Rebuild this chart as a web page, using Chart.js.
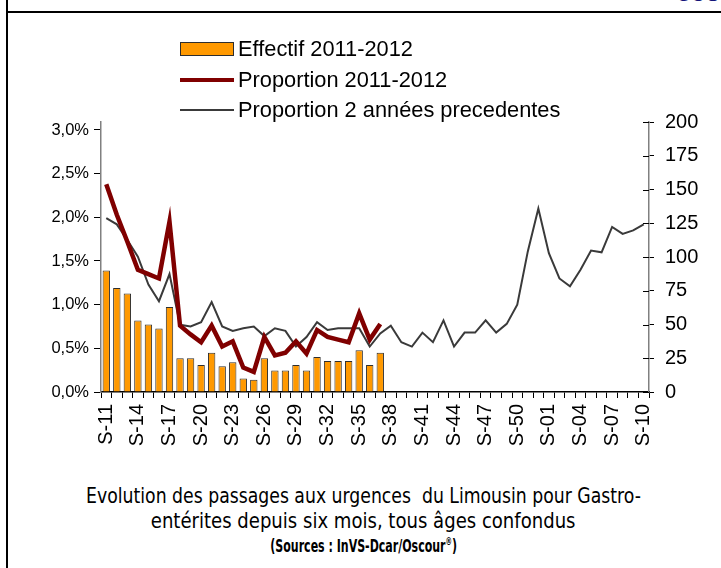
<!DOCTYPE html>
<html>
<head>
<meta charset="utf-8">
<script src="https://cdn.jsdelivr.net/npm/chart.js@4.4.1/dist/chart.umd.min.js"></script>
<style>
html, body { margin: 0; padding: 0; background: #fff; }
body { width: 721px; height: 568px; position: relative; overflow: hidden; font-family: "Liberation Sans", Arial, sans-serif; }
#cadreV { position: absolute; left: 6px; top: 0; width: 2px; height: 568px; background: #000; }
#cadreH { position: absolute; left: 6px; top: 11px; width: 715px; height: 2px; background: #000; }
#entete { position: absolute; right: 0; top: -23px; font: bold 26px "Liberation Sans", Arial, sans-serif; color: #14147a; }
#graphique { position: absolute; left: 0; top: 0; }
#legende { position: absolute; left: 180px; top: 34px; font-size: 21.8px; color: #000; }
.item { height: 30.5px; display: flex; align-items: center; white-space: nowrap; }
.marque { width: 54px; margin-right: 4px; box-sizing: border-box; }
#texte { position: absolute; left: 6px; right: 0; top: 483px; text-align: center; font-family: "Liberation Sans Narrow", "DejaVu Sans Condensed", sans-serif; color: #000; }
#texte div { height: 25px; }
#texte div.d3 { margin-top: -2px; }
#texte span { display: inline-block; white-space: nowrap; transform-origin: 50% 50%; }
.l1 { font-size: 21px; line-height: 26px; }
.l3 { font-size: 17px; line-height: 22px; font-weight: bold; }
sup { font-size: 10px; }
</style>
</head>
<body>
<div id="cadreV"></div>
<div id="cadreH"></div>
<div id="entete">eco</div>
<canvas id="graphique" width="721" height="470"></canvas>
<div id="legende"></div>
<div id="texte">
  <div><span class="l1" style="transform: scaleX(0.914)">Evolution des passages aux urgences&nbsp; du Limousin pour Gastro-</span></div>
  <div><span class="l1" style="transform: scaleX(0.956)">entérites depuis six mois, tous âges confondus</span></div>
  <div class="d3"><span class="l3" style="transform: scaleX(0.72)">(Sources : InVS-Dcar/Oscour<sup>®</sup>)</span></div>
</div>
<script>
// semaines (S-11 2011 -> S-10 2012)
const semaines = ['S-11','S-12','S-13','S-14','S-15','S-16','S-17','S-18','S-19','S-20',
  'S-21','S-22','S-23','S-24','S-25','S-26','S-27','S-28','S-29','S-30',
  'S-31','S-32','S-33','S-34','S-35','S-36','S-37','S-38','S-39','S-40',
  'S-41','S-42','S-43','S-44','S-45','S-46','S-47','S-48','S-49','S-50',
  'S-51','S-52','S-01','S-02','S-03','S-04','S-05','S-06','S-07','S-08',
  'S-09','S-10'];

// effectif 2011-2012 (axe de droite)
const effectif = [90, 77, 73, 53, 50, 47, 63, 25, 25, 20, 29, 19, 22, 10, 9, 25, 16, 16,
  20, 16, 26, 23, 23, 23, 31, 20, 29];

// proportions en % (axe de gauche)
const propActuelle = [2.38, 2.03, 1.72, 1.40, 1.35, 1.30, 1.95, 0.76, 0.66, 0.57, 0.76, 0.52,
  0.58, 0.28, 0.23, 0.63, 0.42, 0.45, 0.58, 0.44, 0.71, 0.63, 0.60, 0.57, 0.90, 0.60, 0.78];
const propPrecedentes = [1.99, 1.92, 1.74, 1.55, 1.23, 1.04, 1.35, 0.77, 0.75, 0.80, 1.03, 0.75,
  0.70, 0.73, 0.75, 0.64, 0.73, 0.70, 0.52, 0.63, 0.80, 0.71, 0.73, 0.73, 0.73, 0.52,
  0.67, 0.76, 0.57, 0.52, 0.68, 0.57, 0.82, 0.52, 0.68, 0.68, 0.82, 0.68, 0.78, 1.00,
  1.61, 2.10, 1.59, 1.30, 1.21, 1.40, 1.62, 1.60, 1.89, 1.81, 1.85, 1.92];

const ticksGauche = [0, 0.5, 1.0, 1.5, 2.0, 2.5, 3.0];
const ticksDroite = [0, 25, 50, 75, 100, 125, 150, 175, 200];

// petits traits de l'axe de droite qui traversent l'axe
const traitsDroite = {
  id: 'traitsDroite',
  afterDraw(chart) {
    const s = chart.scales.y2, c = chart.ctx;
    c.save();
    c.strokeStyle = '#000';
    c.lineWidth = 1;
    s.ticks.forEach(t => {
      const y = Math.round(s.getPixelForValue(t.value)) + 0.5;
      c.beginPath(); c.moveTo(s.left - 6, y); c.lineTo(s.left, y); c.stroke();
    });
    c.restore();
  }
};

const chart = new Chart(document.getElementById('graphique'), {
  type: 'bar',
  data: {
    labels: semaines,
    datasets: [
      { type: 'bar', label: 'Effectif 2011-2012', data: effectif, yAxisID: 'y2',
        backgroundColor: '#FF9900', borderColor: '#2e2e2e', borderWidth: 1,
        barPercentage: 0.7, categoryPercentage: 1, order: 3 },
      { type: 'line', label: 'Proportion 2011-2012', data: propActuelle, yAxisID: 'y',
        borderColor: '#800000', borderWidth: 4.5, pointRadius: 0, tension: 0, order: 1 },
      { type: 'line', label: 'Proportion 2 années precedentes', data: propPrecedentes, yAxisID: 'y',
        borderColor: '#3a3a3a', borderWidth: 2, pointRadius: 0, tension: 0, order: 2 }
    ]
  },
  options: {
    responsive: false,
    animation: false,
    layout: { padding: { top: 122, left: 0, right: 0, bottom: 0 } },
    plugins: { legend: { display: false }, tooltip: { enabled: false } },
    scales: {
      x: {
        offset: true,
        grid: { offset: true, drawOnChartArea: false, tickLength: 6, color: '#000' },
        border: { color: '#000', width: 1.5 },
        ticks: {
          autoSkip: false, minRotation: 90, maxRotation: 90, padding: 6, color: '#000',
          font: { family: 'Liberation Sans', size: 20 },
          callback: (v, i) => (i % 3 === 0 ? semaines[i] : '')
        },
        afterFit: s => { s.height = 78; }
      },
      y: {
        position: 'left', min: 0, max: 3.0916,
        grid: { drawOnChartArea: false, tickLength: 7, color: '#000' },
        border: { color: '#808080', width: 1.5 },
        ticks: {
          padding: 5, color: '#000', font: { family: 'Liberation Sans', size: 16.5 },
          callback: v => v.toFixed(1).replace('.', ',') + '%'
        },
        afterBuildTicks: s => { s.ticks = ticksGauche.map(v => ({ value: v })); },
        afterFit: s => { s.width = 101; }
      },
      y2: {
        position: 'right', min: 0, max: 200,
        grid: { drawOnChartArea: false, tickLength: 5, color: '#000' },
        border: { color: '#808080', width: 1.5 },
        ticks: { padding: 11, color: '#000', font: { family: 'Liberation Sans', size: 20 } },
        afterBuildTicks: s => { s.ticks = ticksDroite.map(v => ({ value: v })); },
        afterFit: s => { s.width = 72; }
      }
    }
  },
  plugins: [traitsDroite]
});

// légende en colonne, construite à partir des jeux de données
const legende = document.getElementById('legende');
chart.data.datasets.forEach(ds => {
  const item = document.createElement('div');
  item.className = 'item';
  const m = document.createElement('div');
  m.className = 'marque';
  if (ds.type === 'bar') {
    m.style.height = '14px';
    m.style.background = ds.backgroundColor;
    m.style.border = '1px solid ' + ds.borderColor;
  } else {
    m.style.height = ds.borderWidth + 'px';
    m.style.background = ds.borderColor;
  }
  const t = document.createElement('span');
  t.textContent = ds.label;
  item.appendChild(m);
  item.appendChild(t);
  legende.appendChild(item);
});
</script>
</body>
</html>
